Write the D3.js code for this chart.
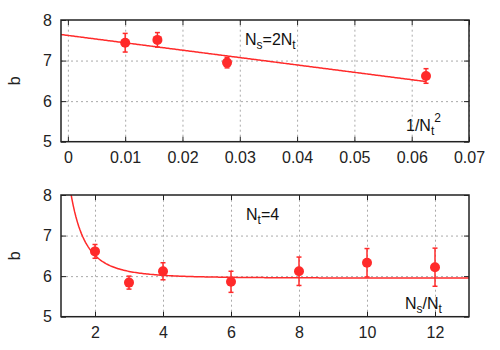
<!DOCTYPE html>
<html>
<head>
<meta charset="utf-8">
<script src="https://cdn.jsdelivr.net/npm/d3@7"></script>
<style>
  body { margin: 0; background: #fff; }
  .grid line { stroke: #aaa; stroke-dasharray: 2,3; stroke-width: 1; }
  .grid path { display: none; }
  .axis path { display: none; }
  .axis line { stroke: #222; stroke-width: 1; }
</style>
</head>
<body>
<svg width="500" height="350"></svg>
<script>
// top panel: b vs 1/Nt^2 (Ns = 2Nt)
let topX = [0.01, 0.015625, 0.027778, 0.0625];
let topB = [7.44, 7.51, 6.95, 6.62];
let topErr = [0.23, 0.18, 0.13, 0.18];
let topXTicks = [0, 0.01, 0.02, 0.03, 0.04, 0.05, 0.06, 0.07];
let topFit = [7.62, -18.2]; // intercept, slope
let topFitRange = [-0.0012, 0.0625];

// bottom panel: b vs Ns/Nt (Nt = 4)
let botX = [2, 3, 4, 6, 8, 10, 12];
let botB = [6.61, 5.84, 6.12, 5.86, 6.12, 6.33, 6.22];
let botErr = [0.17, 0.16, 0.21, 0.26, 0.35, 0.35, 0.47];
let botXTicks = [2, 4, 6, 8, 10, 12];
let botFit = [5.95, 4.5, 3]; // a + c / x^p
let botFitRange = [1.0, 13];

let yTicks = [5, 6, 7, 8];

let font = '"Liberation Sans", Arial, Helvetica, sans-serif';
let svg = d3.select('svg').attr('font-family', font);
let red = '#ff2a2a';

let padding = { l: 61, r: 31 };
let plotW = 500 - padding.l - padding.r;
let plotH = 121.7;

function styleAxis(sel) {
    sel.attr('font-family', font).attr('font-size', 16);
    sel.selectAll('text').attr('fill', '#222');
}

function panel(opts) {
    let g = svg.append('g')
        .attr('transform', 'translate(' + [padding.l, opts.top] + ')');

    let x = d3.scaleLinear().domain(opts.xDomain).range([0, plotW]);
    let y = d3.scaleLinear().domain([5, 8]).range([plotH, 0]);

    let clipId = 'clip' + opts.top;
    g.append('clipPath').attr('id', clipId)
        .append('rect').attr('width', plotW).attr('height', plotH);

    // grid
    g.append('g').attr('class', 'grid')
        .attr('transform', 'translate(0,' + plotH + ')')
        .call(d3.axisBottom(x).tickValues(opts.xTicks).tickSize(-plotH).tickFormat(''));
    g.append('g').attr('class', 'grid')
        .call(d3.axisLeft(y).tickValues([6, 7]).tickSize(-plotW).tickFormat(''));

    // ticks + labels
    g.append('g').attr('class', 'axis')
        .attr('transform', 'translate(0,' + plotH + ')')
        .call(d3.axisBottom(x).tickValues(opts.xTicks).tickSize(-5).tickPadding(10)
            .tickFormat(opts.xFormat))
        .call(styleAxis);
    g.append('g').attr('class', 'axis')
        .call(d3.axisTop(x).tickValues(opts.xTicks).tickSize(-5).tickFormat(''));
    g.append('g').attr('class', 'axis')
        .call(d3.axisLeft(y).tickValues(yTicks).tickSize(-5).tickPadding(9)
            .tickFormat(d3.format('d')))
        .call(styleAxis);
    g.append('g').attr('class', 'axis')
        .attr('transform', 'translate(' + plotW + ',0)')
        .call(d3.axisRight(y).tickValues(yTicks).tickSize(-5).tickFormat(''));

    // fit curve
    let fitPts = d3.range(opts.fitRange[0], opts.fitRange[1] + 1e-9,
        (opts.fitRange[1] - opts.fitRange[0]) / 300).map(v => [v, opts.fit(v)]);
    g.append('path')
        .attr('clip-path', 'url(#' + clipId + ')')
        .attr('d', d3.line().x(d => x(d[0])).y(d => y(d[1]))(fitPts))
        .attr('fill', 'none')
        .attr('stroke', red)
        .attr('stroke-width', 1.5);

    // error bars
    let data = opts.xs.map((v, i) => ({ x: v, b: opts.bs[i], e: opts.errs[i] }));
    let eb = g.selectAll('.eb').data(data).enter().append('g').attr('class', 'eb')
        .attr('stroke', red).attr('stroke-width', 1.5);
    eb.append('line')
        .attr('x1', d => x(d.x)).attr('x2', d => x(d.x))
        .attr('y1', d => y(d.b - d.e)).attr('y2', d => y(d.b + d.e));
    eb.append('line')
        .attr('x1', d => x(d.x) - 2.5).attr('x2', d => x(d.x) + 2.5)
        .attr('y1', d => y(d.b - d.e)).attr('y2', d => y(d.b - d.e));
    eb.append('line')
        .attr('x1', d => x(d.x) - 2.5).attr('x2', d => x(d.x) + 2.5)
        .attr('y1', d => y(d.b + d.e)).attr('y2', d => y(d.b + d.e));

    g.selectAll('.pt').data(data).enter().append('circle')
        .attr('class', 'pt')
        .attr('cx', d => x(d.x))
        .attr('cy', d => y(d.b))
        .attr('r', 5)
        .attr('fill', red);

    // frame
    g.append('rect')
        .attr('width', plotW).attr('height', plotH)
        .attr('fill', 'none').attr('stroke', '#222').attr('stroke-width', 1.5);

    // y label
    svg.append('text')
        .attr('transform', 'translate(' + [20, opts.top + plotH / 2] + ') rotate(-90)')
        .attr('text-anchor', 'middle')
        .attr('font-size', 16)
        .attr('fill', '#222')
        .text('b');

    return g;
}

panel({
    top: 20,
    xDomain: [-0.0012, 0.07],
    xTicks: topXTicks,
    xFormat: d => d === 0 ? '0' : d3.format('.2f')(d),
    xs: topX, bs: topB, errs: topErr,
    fit: v => topFit[0] + topFit[1] * v,
    fitRange: topFitRange
});

panel({
    top: 195,
    xDomain: [1, 13],
    xTicks: botXTicks,
    xFormat: d3.format('d'),
    xs: botX, bs: botB, errs: botErr,
    fit: v => botFit[0] + botFit[1] / Math.pow(v, botFit[2]),
    fitRange: botFitRange
});

// labels with sub/superscripts
function label(xp, yp, parts) {
    let t = svg.append('text')
        .attr('x', xp).attr('y', yp)
        .attr('font-size', 16)
        .attr('fill', '#111');
    let shift = 0;
    parts.forEach(p => {
        let target = p[1] === 'sub' ? 4 : p[1] === 'sup' ? -9 : 0;
        t.append('tspan')
            .attr('dy', target - shift)
            .attr('font-size', p[1] ? 12 : 16)
            .text(p[0]);
        shift = target;
    });
}

label(245, 45, [['N'], ['s', 'sub'], ['=2N'], ['t', 'sub']]);
label(406, 131, [['1/N'], ['t', 'sub'], ['2', 'sup']]);
label(246, 220, [['N'], ['t', 'sub'], ['=4']]);
label(405, 309, [['N'], ['s', 'sub'], ['/N'], ['t', 'sub']]);
</script>
</body>
</html>
